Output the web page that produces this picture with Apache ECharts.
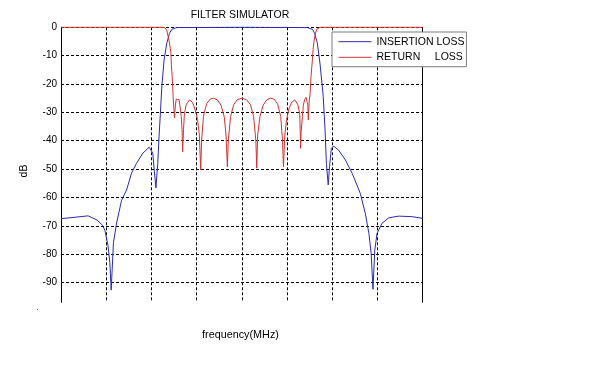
<!DOCTYPE html>
<html>
<head>
<meta charset="utf-8">
<script src="https://cdn.jsdelivr.net/npm/echarts@6/dist/echarts.min.js"></script>
<style>
html,body{margin:0;padding:0;background:#fff;}
#chart{width:600px;height:375px;}
</style>
</head>
<body>
<div id="chart"></div>
<script>
// Frequency axis in arbitrary units (10 units per grid division)
const ilFreq = [0,3.1,6.0,8.0,9.1,9.7,10.4,10.8,11.1,11.6,12.3,13.4,14.5,15.6,16.7,18.1,19.5,20.3,20.6,21.0,21.4,21.7,21.9,22.3,22.8,23.4,24.0,24.5,25.6,40.0,54.5,55.6,56.1,56.7,57.3,57.8,58.0,58.4,58.7,59.1,59.4,59.8,60.3,61.4,62.9,64.4,66.2,67.3,68.1,68.6,69.0,69.4,69.9,71.0,72.5,74.7,77.7,80.0];
const insertionLoss = [-67.5,-67.0,-66.5,-68,-69.7,-71.5,-77,-83,-92.7,-76,-69,-61,-57.4,-51.4,-48,-44.4,-42.3,-44.4,-50,-56.7,-48,-38,-32.7,-21,-11.5,-5.6,-2.1,-0.7,-0.1,0,-0.1,-0.7,-2.1,-5.6,-13,-21,-24.5,-36,-48,-55.6,-49,-42.7,-41.9,-43.3,-46.8,-51.5,-58.6,-65.6,-72.7,-79.7,-92.4,-78.6,-72.7,-69.1,-67.2,-66.6,-66.8,-67.4];

const rlFreq = [0,22.3,23.0,23.4,23.7,24.0,24.3,24.4,24.6,24.8,25.1,25.3,25.5,25.8,26.1,26.3,26.6,26.8,26.9,27.1,27.3,27.7,28.4,29.1,29.6,30.2,30.6,30.9,31.1,31.5,32.2,33.0,33.7,34.6,35.4,36.1,36.5,36.8,37.0,37.5,38.2,39.0,40.0,41.0,41.9,42.6,43.1,43.3,43.5,44.0,44.7,45.5,46.3,47.1,47.9,48.6,49.0,49.2,49.5,49.9,50.4,51.0,51.7,52.4,52.8,52.9,53.0,53.1,53.4,53.6,53.9,54.2,54.4,54.6,54.7,54.9,55.1,55.3,55.6,55.8,56.0,56.3,56.6,57.0,57.3,80.0];
const returnLoss = [0,0,-0.2,-1,-3.3,-5.5,-9,-13,-17.4,-24.5,-32,-27.5,-25.3,-24.7,-25.5,-27.5,-31.5,-37,-43.9,-36,-30.5,-27.3,-25.6,-26.5,-28.8,-32.5,-38,-50.3,-40,-31.5,-27,-25.3,-25,-25.6,-27.5,-31.5,-38,-49.2,-40,-31.5,-27.3,-25.5,-25,-25.5,-27.3,-31.5,-40,-49.7,-38,-31.5,-27.5,-25.6,-25,-25.3,-27,-31.5,-40,-49.2,-38,-32.5,-28.8,-26.5,-25.6,-27.3,-30.5,-36,-42.7,-37,-31.5,-27.5,-25.5,-24.7,-25.3,-27.5,-32.7,-26,-23.3,-17.4,-11.5,-7,-4.5,-2,-0.7,-0.1,0,0];

const yTicks = [0,-10,-20,-30,-40,-50,-60,-70,-80,-90];
const seriesNames = ['INSERTION LOSS','RETURN     LOSS'];
const titleText = 'FILTER SIMULATOR';
const xName = 'frequency(MHz)';
const yName = 'dB';

const FONT = "'Liberation Sans', Arial, sans-serif";
const chart = echarts.init(document.getElementById('chart'), null, {renderer:'canvas'});
const dash = {color:'#000', width:1, type:[3,2]};

chart.setOption({
  animation:false,
  backgroundColor:'#fff',
  grid:{left:61, right:177.3, top:27.3, bottom:72.7, containLabel:false},
  xAxis:{
    type:'value', min:0, max:80, interval:10,
    axisLine:{show:false}, axisTick:{show:false}, axisLabel:{show:false},
    splitLine:{show:true, lineStyle:dash}
  },
  yAxis:[{
    type:'value', min:-97, max:0,
    axisLine:{show:true, lineStyle:{color:'#000', width:1}},
    axisTick:{show:false, customValues:yTicks},
    axisLabel:{customValues:yTicks, margin:4, fontSize:10, color:'#000', fontFamily:FONT},
    splitLine:{show:true, lineStyle:dash}
  },{
    type:'value', min:-97, max:0, position:'right',
    axisLine:{show:true, lineStyle:{color:'#000', width:1}},
    axisTick:{show:false}, axisLabel:{show:false}, splitLine:{show:false}
  }],
  legend:{
    orient:'vertical', left:332, top:32,
    padding:[3.7,2,3.4,6], itemGap:3.6, itemWidth:33, itemHeight:12,
    backgroundColor:'#fff', borderColor:'#7a7a7a', borderWidth:1,
    itemStyle:{opacity:0},
    lineStyle:{width:1},
    textStyle:{fontSize:10.5, color:'#000', fontFamily:FONT, lineHeight:12},
    data:seriesNames
  },
  series:[{
    name:seriesNames[0], type:'line', symbol:'none', showSymbol:false, clip:false,
    lineStyle:{color:'#2a2ab4', width:1}, itemStyle:{color:'#2a2ab4'},
    data: ilFreq.map((f,i)=>[f, insertionLoss[i]])
  },{
    name:seriesNames[1], type:'line', symbol:'none', showSymbol:false, clip:false,
    lineStyle:{color:'#d03434', width:1}, itemStyle:{color:'#d03434'},
    data: rlFreq.map((f,i)=>[f, returnLoss[i]])
  }],
  graphic:[
    {type:'text', x:240, y:15, style:{text:titleText, fontSize:10.5, fontFamily:FONT, fill:'#000', align:'center', verticalAlign:'middle'}},
    {type:'text', x:240.5, y:335, style:{text:xName, fontSize:10.8, fontFamily:FONT, fill:'#000', align:'center', verticalAlign:'middle'}},
    {type:'text', x:24, y:171, rotation:Math.PI/2, style:{text:yName, fontSize:10.5, fontFamily:FONT, fill:'#000', align:'center', verticalAlign:'middle'}},
    {type:'text', x:37.5, y:312, style:{text:'.', fontSize:9, fontFamily:FONT, fill:'#666', align:'center', verticalAlign:'bottom'}}
  ]
});
</script>
</body>
</html>
